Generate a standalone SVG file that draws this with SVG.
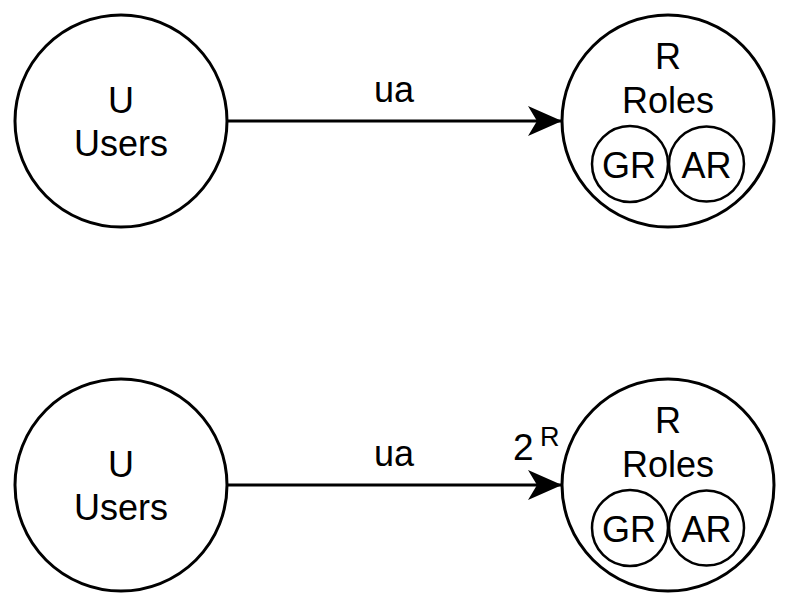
<svg xmlns="http://www.w3.org/2000/svg" width="789" height="606" viewBox="0 0 789 606">
<style>
.n{fill:#fff;stroke:#000;stroke-width:3}
.t{font-family:"Liberation Sans",Arial,sans-serif;font-size:36px;fill:#000;text-anchor:middle}
.e{stroke:#000;stroke-width:3;fill:none}
</style>
<defs>
<marker id="arr" viewBox="0 0 34 30" refX="34" refY="15" markerWidth="34" markerHeight="30" markerUnits="userSpaceOnUse" orient="auto">
<path d="M0,0 L34,15 L0,30 L9,15 Z" fill="#000"/>
</marker>
</defs>
<rect width="789" height="606" fill="#fff"/>
<g id="connectors">
<g id="edge-top"><line class="e" x1="227" y1="121" x2="562" y2="121" marker-end="url(#arr)"/><text class="t" x="394" y="102">ua</text></g>
<g id="edge-bottom"><line class="e" x1="227" y1="485" x2="562" y2="485" marker-end="url(#arr)"/><text class="t" x="394" y="466">ua</text>
<text style="font-family:'Liberation Sans',Arial,sans-serif;font-size:37px" x="513" y="460">2</text>
<text style="font-family:'Liberation Sans',Arial,sans-serif;font-size:27px" x="540" y="446">R</text></g>
</g>
<g id="users-top"><circle class="n" cx="121" cy="121" r="106"/><text class="t" x="121" y="113">U</text><text class="t" x="121" y="156">Users</text></g>
<g id="roles-top"><circle class="n" cx="668" cy="121" r="106"/><text class="t" x="668" y="69">R</text><text class="t" x="668" y="113">Roles</text></g>
<g id="gr-top"><circle class="n" cx="630" cy="164" r="38" style="stroke-width:2.5"/><text class="t" x="629" y="178">GR</text></g>
<g id="ar-top"><circle class="n" cx="706.5" cy="164" r="37.5" style="stroke-width:2.5"/><text class="t" x="706.5" y="178">AR</text></g>
<g id="users-bottom"><circle class="n" cx="121" cy="485" r="106"/><text class="t" x="121" y="477">U</text><text class="t" x="121" y="520">Users</text></g>
<g id="roles-bottom"><circle class="n" cx="668" cy="485" r="106"/><text class="t" x="668" y="433">R</text><text class="t" x="668" y="477">Roles</text></g>
<g id="gr-bottom"><circle class="n" cx="630" cy="528" r="38" style="stroke-width:2.5"/><text class="t" x="629" y="542">GR</text></g>
<g id="ar-bottom"><circle class="n" cx="706.5" cy="528" r="37.5" style="stroke-width:2.5"/><text class="t" x="706.5" y="542">AR</text></g>
</svg>
